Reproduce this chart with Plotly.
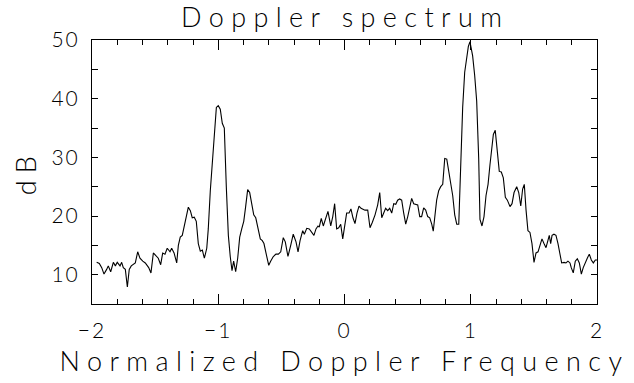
import plotly.graph_objects as go

# Normalized Doppler frequency
freq = [
    -1.963, -1.942, -1.923, -1.905, -1.884, -1.871, -1.852, -1.831, -1.815, -1.800,
    -1.778, -1.765, -1.752, -1.736, -1.720, -1.705, -1.689, -1.673, -1.657, -1.638,
    -1.620, -1.598, -1.578, -1.551, -1.533, -1.514, -1.493, -1.475, -1.456, -1.440,
    -1.422, -1.404, -1.382, -1.369, -1.350, -1.329, -1.316, -1.301, -1.285, -1.269,
    -1.253, -1.237, -1.221, -1.206, -1.190, -1.174, -1.158, -1.142, -1.126, -1.110,
    -1.091, -1.079, -1.063, -1.047, -1.031, -1.015, -1.000, -0.984, -0.968, -0.952,
    -0.936, -0.920, -0.905, -0.891, -0.878, -0.862, -0.846, -0.830, -0.814, -0.798,
    -0.783, -0.767, -0.751, -0.735, -0.719, -0.703, -0.688, -0.667, -0.651, -0.638,
    -0.622, -0.600, -0.585, -0.564, -0.543, -0.524, -0.505, -0.485, -0.469, -0.448,
    -0.426, -0.406, -0.384, -0.368, -0.352, -0.331, -0.318, -0.299, -0.279, -0.257,
    -0.242, -0.226, -0.210, -0.200, -0.184, -0.168, -0.152, -0.131, -0.109, -0.093,
    -0.078, -0.062, -0.046, -0.030, -0.014, 0.017, 0.036, 0.051, 0.067, 0.083,
    0.099, 0.115, 0.131, 0.147, 0.162, 0.184, 0.202, 0.220, 0.242, 0.263,
    0.279, 0.295, 0.310, 0.326, 0.342, 0.358, 0.374, 0.390, 0.406, 0.421,
    0.437, 0.453, 0.469, 0.485, 0.501, 0.516, 0.532, 0.548, 0.564, 0.580,
    0.596, 0.611, 0.627, 0.643, 0.659, 0.675, 0.691, 0.703, 0.717, 0.730,
    0.746, 0.762, 0.778, 0.794, 0.810, 0.825, 0.841, 0.857, 0.873, 0.889,
    0.905, 0.920, 0.936, 0.952, 0.968, 0.981, 0.994, 1.004, 1.015, 1.031,
    1.047, 1.063, 1.073, 1.089, 1.105, 1.121, 1.137, 1.152, 1.168, 1.179,
    1.194, 1.210, 1.226, 1.242, 1.258, 1.274, 1.290, 1.311, 1.327, 1.343,
    1.364, 1.380, 1.396, 1.411, 1.424, 1.438, 1.453, 1.469, 1.485, 1.501,
    1.517, 1.533, 1.549, 1.564, 1.580, 1.596, 1.612, 1.622, 1.633, 1.644,
    1.659, 1.675, 1.691, 1.707, 1.720, 1.739, 1.754, 1.770, 1.786, 1.796,
    1.812, 1.828, 1.844, 1.860, 1.876, 1.891, 1.907, 1.923, 1.939, 1.955,
    1.971, 1.987, 2.000,
]

# Spectrum level in dB
power_db = [
    12.1, 11.9, 11.2, 10.1, 10.9, 11.5, 10.5, 12.1, 11.5, 12.1,
    11.5, 12.1, 11.2, 10.9, 7.9, 10.9, 11.5, 11.8, 12.0, 13.9,
    12.8, 12.3, 12.0, 11.2, 10.3, 13.7, 13.2, 12.8, 11.7, 13.7,
    13.5, 14.5, 13.9, 14.5, 13.7, 12.0, 15.0, 16.4, 16.7, 18.3,
    19.4, 21.5, 20.9, 19.7, 19.8, 19.1, 15.3, 14.0, 14.2, 12.8,
    14.5, 17.8, 24.3, 29.2, 32.5, 38.5, 38.8, 38.2, 35.8, 35.0,
    24.9, 16.7, 13.1, 10.7, 12.3, 10.5, 12.8, 16.4, 17.8, 19.1,
    21.6, 24.5, 24.0, 22.1, 20.2, 19.7, 18.3, 16.1, 15.8, 15.3,
    13.7, 11.6, 12.3, 13.1, 13.5, 13.5, 13.9, 16.3, 15.6, 13.1,
    15.0, 16.9, 15.6, 13.9, 15.8, 17.5, 16.9, 17.9, 17.8, 17.2,
    16.7, 17.8, 18.3, 18.1, 19.6, 18.3, 19.4, 20.8, 18.3, 19.9,
    22.1, 17.8, 18.0, 18.6, 16.1, 20.5, 20.5, 21.2, 19.7, 18.7,
    20.5, 21.7, 21.3, 21.2, 21.0, 21.0, 18.0, 18.9, 20.2, 21.9,
    24.0, 19.7, 20.5, 21.3, 20.9, 21.3, 20.5, 22.1, 22.0, 22.7,
    22.9, 22.7, 20.5, 18.6, 19.9, 21.3, 23.0, 22.1, 22.0, 21.9,
    19.9, 19.9, 21.4, 21.0, 19.9, 19.7, 18.6, 17.4, 20.2, 22.7,
    24.3, 25.0, 25.4, 29.8, 29.7, 27.6, 26.0, 23.5, 20.2, 18.6,
    18.6, 28.7, 38.5, 44.5, 47.3, 48.9, 49.7, 48.6, 47.3, 44.0,
    39.6, 29.8, 19.4, 18.3, 19.9, 23.5, 25.4, 28.7, 32.0, 33.9,
    34.6, 31.4, 27.6, 27.5, 26.5, 23.2, 22.7, 21.6, 22.1, 24.0,
    25.0, 24.0, 21.7, 24.6, 25.4, 21.0, 17.5, 17.2, 15.3, 12.1,
    13.7, 13.9, 15.0, 16.1, 15.3, 14.6, 15.9, 16.7, 15.3, 16.7,
    16.9, 16.7, 15.3, 13.4, 12.0, 12.1, 12.0, 12.3, 12.0, 11.2,
    10.3, 12.3, 12.7, 12.0, 10.1, 11.2, 12.1, 12.8, 13.5, 12.5,
    12.0, 12.5, 12.5,
]

x_tick_vals = [-2, -1, 0, 1, 2]
x_tick_text = ["\u22122", "\u22121", "0", "1", "2"]
y_tick_vals = [10, 20, 30, 40, 50]
y_tick_text = ["10", "20", "30", "40", "50"]

FONT = "Lato"
W = 300

fig = go.Figure()
fig.add_trace(go.Scatter(
    x=freq, y=power_db, mode="lines",
    line=dict(color="black", width=1.1),
    showlegend=False, hoverinfo="skip",
))

fig.update_layout(
    width=634, height=383,
    margin=dict(l=92, r=37, t=40, b=70),
    paper_bgcolor="white", plot_bgcolor="white",
    font=dict(family=FONT, color="black", weight=W),
    title=dict(
        text="Doppler spectrum",
        x=0.5445, xanchor="center", xref="container",
        y=1 - 27 / 383, yanchor="bottom", yref="container",
        font=dict(size=27, family=FONT, color="black", weight=W),
    ),
)

fig.update_xaxes(
    range=[-2, 2],
    tickmode="array", tickvals=x_tick_vals, ticktext=x_tick_text,
    ticks="inside", ticklen=10, tickwidth=1, tickcolor="black",
    minor=dict(dtick=0.2, tick0=-2, ticks="inside", ticklen=5, tickwidth=1, tickcolor="black", showgrid=False),
    showline=True, linecolor="black", linewidth=1, mirror="allticks",
    showgrid=False, zeroline=False,
    tickfont=dict(size=21, family=FONT, color="black", weight=W),
    ticklabelstandoff=8,
    title=dict(text="Normalized Doppler Frequency", font=dict(size=27, family=FONT, color="black", weight=W), standoff=10),
)

fig.update_yaxes(
    range=[5, 50],
    tickmode="array", tickvals=y_tick_vals, ticktext=y_tick_text,
    ticks="inside", ticklen=6, tickwidth=1, tickcolor="black",
    minor=dict(dtick=5, tick0=5, ticks="inside", ticklen=6, tickwidth=1, tickcolor="black", showgrid=False),
    showline=True, linecolor="black", linewidth=1, mirror="allticks",
    showgrid=False, zeroline=False,
    tickfont=dict(size=21, family=FONT, color="black", weight=W),
    ticklabelstandoff=7,
    title=dict(text="dB", font=dict(size=27, family=FONT, color="black", weight=W), standoff=10),
)

post = """
var gd = document.getElementById('{plot_id}');
function spaceOut(){
  gd.querySelectorAll('.gtitle, .xtitle, .ytitle').forEach(function(t){
    t.style.letterSpacing = '7.4px';
  });
  gd.querySelectorAll('.xtick text, .ytick text').forEach(function(t){
    t.style.letterSpacing = '2px';
  });
}
spaceOut();
gd.on('plotly_afterplot', spaceOut);
"""

fig.write_html("out.html", post_script=post)
